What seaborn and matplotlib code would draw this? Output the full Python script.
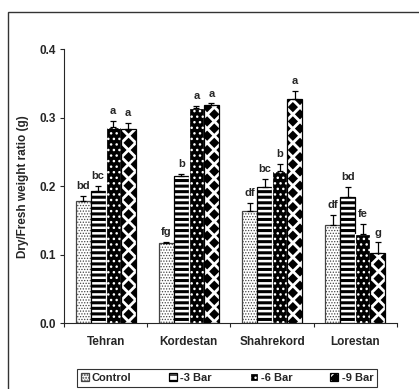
import warnings
import numpy as np
import matplotlib
matplotlib.use("Agg")
import matplotlib.pyplot as plt
import matplotlib.hatch as mhatch
from matplotlib.path import Path
from matplotlib.patches import Rectangle
import seaborn as sns
import pandas as pd

warnings.filterwarnings("ignore")

sites = ["Tehran", "Kordestan", "Shahrekord", "Lorestan"]
treatments = ["Control", "-3 Bar", "-6 Bar", "-9 Bar"]

# dry/fresh ratio per treatment, in site order
control = [0.178, 0.117, 0.164, 0.143]
bar3 = [0.193, 0.215, 0.199, 0.184]
bar6 = [0.287, 0.315, 0.222, 0.130]
bar9 = [0.284, 0.319, 0.328, 0.102]

err_control = [0.008, 0.002, 0.012, 0.015]
err_bar3 = [0.008, 0.003, 0.012, 0.015]
err_bar6 = [0.008, 0.002, 0.011, 0.015]
err_bar9 = [0.008, 0.002, 0.011, 0.016]

letters_control = ["bd", "fg", "df", "df"]
letters_bar3 = ["bc", "b", "bc", "bd"]
letters_bar6 = ["a", "a", "b", "fe"]
letters_bar9 = ["a", "a", "a", "g"]

values = [control, bar3, bar6, bar9]
errors = [err_control, err_bar3, err_bar6, err_bar9]
letters = [letters_control, letters_bar3, letters_bar6, letters_bar9]


# staggered filled diamonds, like the -9 Bar fill of the original
class DiamondHatch(mhatch.HatchPatternBase):
    def __init__(self, hatch, density):
        self.n = hatch.count("d") * 7
        self.rows = 2 * self.n
        self.num_vertices = (self.rows + 1) * (self.n + 1) * 5 if self.n else 0

    def set_vertices_and_codes(self, vertices, codes):
        p = 1.0 / self.n
        h = 0.36 * p
        shape = np.array([[0, h], [h, 0], [0, -h], [-h, 0], [0, h]])
        k = 0
        for r in range(self.rows + 1):
            shift = p / 2 if r % 2 else 0
            for c in range(self.n + 1):
                vertices[k:k + 5] = shape + [c * p + shift, r * p / 2]
                codes[k] = Path.MOVETO
                codes[k + 1:k + 4] = Path.LINETO
                codes[k + 4] = Path.CLOSEPOLY
                k += 5


mhatch._hatch_types.append(DiamondHatch)

rows = []
for t, vals in zip(treatments, values):
    for s, v in zip(sites, vals):
        rows.append({"site": s, "treatment": t, "ratio": v})
df = pd.DataFrame(rows)

sns.set_style("ticks")
plt.rcParams["font.family"] = ["Liberation Sans", "DejaVu Sans"]
plt.rcParams["font.weight"] = "bold"

# hatch per treatment: (face, hatch, hatch colour, hatch linewidth)
styles = [
    ("white", "......", "#444444", 0.6),
    ("white", "---", "black", 2.2),
    ("black", "...", "white", 1.0),
    ("white", "d", "black", 0.0),
]

fig = plt.figure(figsize=(4.19, 3.89), dpi=100)
ax = fig.add_axes([0.1527, 0.1689, 0.7948, 0.7044])

sns.barplot(data=df, x="site", y="ratio", hue="treatment", order=sites,
            hue_order=treatments, width=0.72, errorbar=None, legend=False, ax=ax)

legend_handles = []
for cont, (face, hatch, hcol, hlw), vals, errs, labs in zip(
        ax.containers, styles, values, errors, letters):
    for p in cont.patches:
        p.set_facecolor(face)
        p.set_hatch(hatch)
        if hasattr(p, "set_hatchcolor"):
            p.set_edgecolor("black")
            p.set_hatchcolor(hcol)
        else:
            p.set_edgecolor(hcol)
        if hasattr(p, "set_hatch_linewidth"):
            p.set_hatch_linewidth(hlw)
        p.set_linewidth(0.9)
    xs = [p.get_x() + p.get_width() / 2 for p in cont.patches]
    ax.errorbar(xs, vals, yerr=[[0] * len(errs), errs], fmt="none",
                ecolor="black", elinewidth=0.9, capsize=2.3, capthick=0.9)
    for x, v, e, lab in zip(xs, vals, errs, labs):
        ax.annotate(lab, (x, v + e), xytext=(0, 3.5), textcoords="offset points",
                    ha="center", va="bottom", fontsize=8, fontweight="bold")
    legend_handles.append(cont.patches[0])

ax.set_ylim(0, 0.4)
ax.set_yticks([0.0, 0.1, 0.2, 0.3, 0.4])
ax.set_yticklabels(["0.0", "0.1", "0.2", "0.3", "0.4"])
ax.set_xlim(-0.5, 3.5)
ax.set_xticks([-0.5, 0.5, 1.5, 2.5, 3.5], minor=True)
ax.tick_params(axis="x", which="major", length=0, pad=9, labelsize=8.5)
ax.tick_params(axis="x", which="minor", length=3, width=0.8)
ax.tick_params(axis="y", length=3, width=0.8, labelsize=8.5, pad=2.5)
for lab in ax.get_xticklabels() + ax.get_yticklabels():
    lab.set_fontweight("bold")
ax.set_xlabel("")
ax.set_ylabel("Dry/Fresh weight ratio (g)", fontsize=8.5, fontweight="bold",
              labelpad=8)
sns.despine(ax=ax)
for sp in ax.spines.values():
    sp.set_linewidth(0.8)

leg = fig.legend(legend_handles, treatments, loc="center", ncol=4,
                 bbox_to_anchor=(227 / 419, 1 - 378 / 389), frameon=True,
                 fancybox=False, edgecolor="black", fontsize=8,
                 handlelength=0.7, handleheight=0.7, handletextpad=0.3,
                 columnspacing=3.4, borderpad=0.35)
leg.get_frame().set_linewidth(0.8)
for t in leg.get_texts():
    t.set_fontweight("bold")

# outer frame of the figure panel
fig.patches.append(Rectangle((8 / 419, -0.05), 1.0, 1 - 12 / 389 + 0.05,
                             transform=fig.transFigure, fill=False,
                             edgecolor="#333333", linewidth=1.0))

fig.savefig("out.png", dpi=100)
